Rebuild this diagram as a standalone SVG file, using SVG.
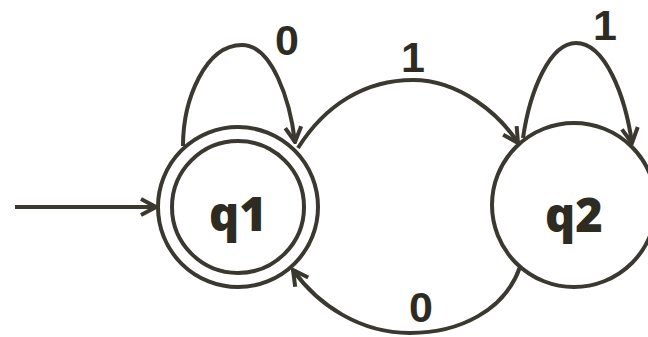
<svg xmlns="http://www.w3.org/2000/svg" width="648" height="337" viewBox="0 0 648 337">
<style>
.st{fill:none;stroke:#3b382f;stroke-width:4}
.lbl{font-family:"Liberation Sans",Arial,sans-serif;font-weight:bold;font-size:43px;fill:#2e2b23;text-anchor:middle}
.nm{font-family:"Open Sans","DejaVu Sans",sans-serif;font-weight:800;font-size:47px}
</style>
<defs>
<marker id="ah" viewBox="0 0 20 20" refX="18" refY="10" markerWidth="20" markerHeight="20" markerUnits="userSpaceOnUse" orient="auto">
<path d="M3,2 L18,10 L3,18" fill="none" stroke="#3b382f" stroke-width="4" stroke-linejoin="miter"/>
</marker>
</defs>
<rect width="648" height="337" fill="#ffffff"/>
<g id="connectors">
<path class="st" d="M15,207 L156,207" marker-end="url(#ah)"/>
<path class="st" d="M183,146 C183,100 205,45 242,45 C272,45 290,100 295,142" marker-end="url(#ah)"/>
<path class="st" d="M298,148 C325,105 365,80 413,80 C460,80 500,115 518,143" marker-end="url(#ah)"/>
<path class="st" d="M523,138 C530,90 550,43 576,43 C605,43 625,95 632,143" marker-end="url(#ah)"/>
<path class="st" d="M520,267 C505,310 460,333 410,333 C360,333 318,305 293,270" marker-end="url(#ah)"/>
<text class="lbl" x="287" y="55">0</text>
<text class="lbl" x="413" y="72">1</text>
<text class="lbl" x="605" y="40">1</text>
<text class="lbl" x="421" y="322">0</text>
</g>
<g id="q1">
<circle class="st" cx="238" cy="207" r="80"/>
<circle class="st" cx="238" cy="207" r="66"/>
<text class="lbl nm" x="238" y="231">q1</text>
</g>
<g id="q2">
<circle class="st" cx="574" cy="205" r="82"/>
<text class="lbl nm" x="574" y="232">q2</text>
</g>
</svg>
